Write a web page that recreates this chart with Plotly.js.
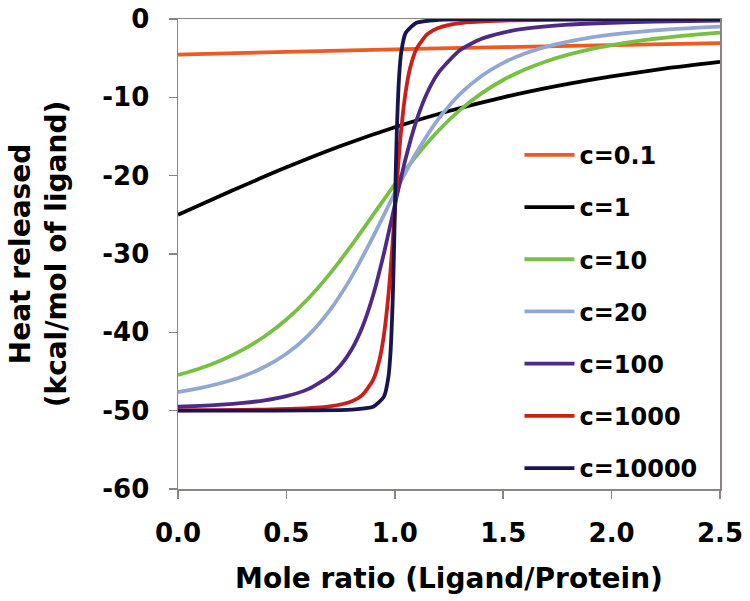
<!DOCTYPE html>
<html>
<head>
<meta charset="utf-8">
<script src="https://cdn.plot.ly/plotly-3.0.1.min.js"></script>
<style>html,body{margin:0;padding:0;background:#fff}#chart{width:750px;height:601px}</style>
</head>
<body>
<div id="chart"></div>
<script>
// Series names
const seriesNames = ["c=0.1", "c=1", "c=10", "c=20", "c=100", "c=1000", "c=10000"];

// c=0.1
const x_c01 = [0, 0.5, 1.0, 1.5, 2.0, 2.5];
const y_c01 = [-4.55, -4.19, -3.87, -3.59, -3.33, -3.09];

// c=1
const x_c1 = [0, 0.25, 0.5, 0.75, 1.0, 1.25, 1.5, 1.75, 2.0, 2.25, 2.5];
const y_c1 = [-25.0, -21.90, -18.94, -16.22, -13.82, -11.75, -10.0, -8.54, -7.32, -6.31, -5.48];

// c=10
const x_c10 = [0, 0.1, 0.2, 0.3, 0.4, 0.5, 0.6, 0.7, 0.8, 0.9, 1.0, 1.1, 1.2, 1.3, 1.4, 1.5, 1.6, 1.7, 1.8, 1.9, 2.0, 2.1, 2.2, 2.3, 2.4, 2.5];
const y_c10 = [-45.45, -44.61, -43.55, -42.21, -40.50, -38.36, -35.71, -32.54, -28.90, -25.0, -21.10, -17.46, -14.29, -11.64, -9.50, -7.79, -6.45, -5.39, -4.55, -3.87, -3.33, -2.88, -2.52, -2.22, -1.96, -1.75];

// c=20
const x_c20 = [0, 0.1, 0.2, 0.3, 0.4, 0.5, 0.6, 0.7, 0.8, 0.9, 1.0, 1.1, 1.2, 1.3, 1.4, 1.5, 1.6, 1.7, 1.8, 1.9, 2.0, 2.1, 2.2, 2.3, 2.4, 2.5];
const y_c20 = [-47.62, -47.12, -46.47, -45.60, -44.40, -42.73, -40.41, -37.20, -32.95, -27.78, -22.22, -17.05, -12.80, -9.59, -7.27, -5.60, -4.40, -3.53, -2.88, -2.38, -2.00, -1.70, -1.46, -1.27, -1.11, -0.98];

// c=100
const x_c100 = [0, 0.1, 0.2, 0.3, 0.4, 0.5, 0.6, 0.7, 0.75, 0.8, 0.85, 0.9, 0.95, 1.0, 1.05, 1.1, 1.15, 1.2, 1.3, 1.4, 1.5, 1.6, 1.8, 2.0, 2.2, 2.5];
const y_c100 = [-49.50, -49.39, -49.24, -49.01, -48.68, -48.15, -47.25, -45.58, -44.21, -42.22, -39.34, -35.26, -29.90, -23.75, -17.82, -12.95, -9.38, -6.90, -3.99, -2.53, -1.73, -1.24, -0.73, -0.48, -0.33, -0.22];

// c=1000
const x_c1000 = [0, 0.2, 0.4, 0.6, 0.7, 0.8, 0.85, 0.9, 0.93, 0.95, 0.97, 0.98, 0.99, 1.0, 1.01, 1.02, 1.03, 1.05, 1.07, 1.1, 1.15, 1.2, 1.3, 1.5, 2.0, 2.5];
const y_c1000 = [-49.95, -49.92, -49.86, -49.69, -49.46, -48.83, -48.01, -46.07, -43.43, -40.31, -35.42, -32.19, -28.52, -24.60, -20.72, -17.12, -14.00, -9.31, -6.33, -3.81, -1.94, -1.15, -0.53, -0.20, -0.05, -0.02];

// c=10000
const x_c10000 = [0, 0.3, 0.6, 0.8, 0.9, 0.95, 0.97, 0.98, 0.99, 0.995, 1.0, 1.005, 1.01, 1.02, 1.03, 1.05, 1.1, 1.2, 1.5, 2.0, 2.5];
const y_c10000 = [-50.0, -49.99, -49.97, -49.88, -49.51, -48.21, -45.80, -42.68, -36.18, -31.06, -24.88, -18.82, -13.73, -7.28, -4.18, -1.78, -0.48, -0.12, -0.02, -0.01, 0.0];

// Tick labels
const xTickVals = [0, 0.5, 1.0, 1.5, 2.0, 2.5];
const xTickText = ["0.0", "0.5", "1.0", "1.5", "2.0", "2.5"];
const yTickVals = [0, -10, -20, -30, -40, -50, -60];
const yTickText = ["0", "-10", "-20", "-30", "-40", "-50", "-60"];

const seriesColors = ["#ee5a24", "#000000", "#78c043", "#92a8d2", "#4e2a86", "#cc1f1a", "#18144f"];

const xs = [x_c01, x_c1, x_c10, x_c20, x_c100, x_c1000, x_c10000];
const ys = [y_c01, y_c1, y_c10, y_c20, y_c100, y_c1000, y_c10000];

const FONT = "DejaVu Sans, Liberation Sans, Arial, sans-serif";

const traces = seriesNames.map((n, i) => ({
  type: "scatter",
  mode: "lines",
  name: n,
  legendgroup: "g" + i,
  x: xs[i],
  y: ys[i],
  line: {color: seriesColors[i], width: 3.8, shape: "spline", smoothing: 0.6},
  hoverinfo: "skip"
}));

const layout = {
  width: 750,
  height: 601,
  margin: {l: 178, r: 30, t: 19, b: 112},
  paper_bgcolor: "#ffffff",
  plot_bgcolor: "#ffffff",
  font: {family: FONT, color: "#000000", size: 26, weight: "bold"},
  showlegend: true,
  legend: {
    x: 0.63, y: 0.758, xanchor: "left", yanchor: "top",
    bgcolor: "rgba(0,0,0,0)",
    font: {family: FONT, size: 24, color: "#000", weight: "bold"},
    traceorder: "grouped",
    tracegroupgap: 18,
    itemwidth: 50
  },
  xaxis: {
    range: [0, 2.5],
    tickmode: "array", tickvals: xTickVals, ticktext: xTickText,
    ticks: "outside", ticklen: 8, tickwidth: 1.5, tickcolor: "#8a8484",
    showline: true, linecolor: "#8a8484", linewidth: 1.5, mirror: true,
    showgrid: false, zeroline: false,
    ticklabelstandoff: 12,
    tickfont: {family: FONT, size: 26, color: "#000", weight: "bold"},
    title: {text: "Mole ratio (Ligand/Protein)", font: {family: FONT, size: 28, color: "#000", weight: "bold"}, standoff: 21}
  },
  yaxis: {
    range: [-60, 0],
    tickmode: "array", tickvals: yTickVals, ticktext: yTickText,
    ticks: "outside", ticklen: 8, tickwidth: 1.5, tickcolor: "#8a8484",
    showline: true, linecolor: "#8a8484", linewidth: 1.5, mirror: true,
    showgrid: false, zeroline: false,
    ticklabelstandoff: 14,
    tickfont: {family: FONT, size: 26, color: "#000", weight: "bold"},
    title: {text: "Heat released<br>(kcal/mol of ligand)", font: {family: FONT, size: 28, color: "#000", weight: "bold"}, standoff: 27}
  }
};

Plotly.newPlot("chart", traces, layout, {staticPlot: true, displayModeBar: false});
</script>
</body>
</html>
